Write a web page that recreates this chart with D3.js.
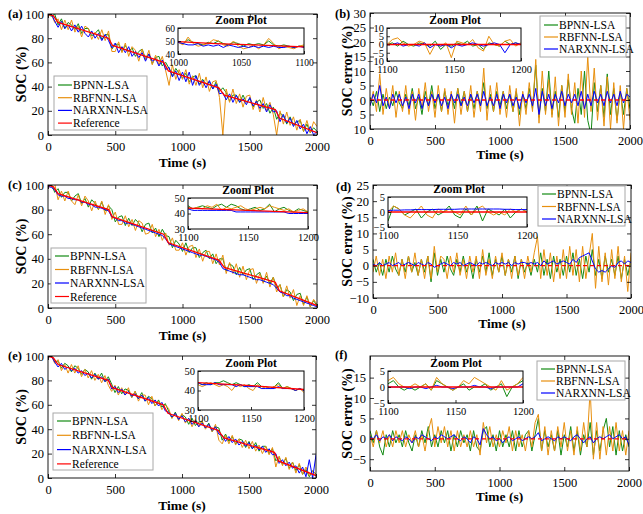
<!DOCTYPE html>
<html lang="en">
<head>
<meta charset="utf-8">
<title>SOC estimation with LSA-tuned networks</title>
<script src="https://cdn.jsdelivr.net/npm/d3@7"></script>
<style>
  body { margin: 0; background: #fff; }
  text { font-family: "Liberation Serif", "Times New Roman", serif; fill: #000; }
</style>
</head>
<body>
<script>
// ---------- data ----------
var seriesNames = ["BPNN-LSA", "RBFNN-LSA", "NARXNN-LSA", "Reference"];
var timeTicks = [0, 500, 1000, 1500, 2000];
var socTicks = [0, 20, 40, 60, 80, 100];
var errTicksB = [-10, -5, 0, 5, 10, 15, 20, 25, 30];
var errLabelsB = ["10", "5", "0", "5", "10", "15", "20", "25", "30"];
var errTicksD = [-10, -5, 0, 5, 10, 15, 20, 25];
var errTicksF = [-5, 0, 5, 10, 15];

// sample instants of the estimates (s)
var sampleTimes = d3.range(0, 2001, 25);
var zoomTimesA = d3.range(1000, 1101, 4);
var zoomTimes = d3.range(1100, 1201, 4);

// reference SOC, breakpoints [time, SOC]
var socReference = [[0, 100], [40, 98.5], [75, 93], [450, 80], [480, 74], [860, 60], [895, 53],
  [1270, 39], [1310, 33], [1690, 21], [1720, 14], [2000, 2]];
var errReference = [[0, 0], [2000, 0]];
var zoomErrReference = [[1100, 0], [1200, 0]];
var zoomRefA = [[1000, 49.5], [1030, 48], [1060, 47], [1100, 45.5]];
var zoomRefC = [[1100, 43.5], [1150, 42], [1200, 40.5]];
var zoomRefE = [[1100, 44], [1150, 42.5], [1200, 40.5]];

// (a)
var bpnnSocA = [100,98,100,91,96,88,93,91,87,92, 84,88,88,82,84,87,79,83,83,71, 75,75,69,74,69,72,65,69,71,63,
  67,59,64,65,57,60,55,49,55,51, 47,51,44,48,49,42,46,42,44,38, 44,36,39,35,28,33,33,27,33,27,
  30,23,27,29,22,26,18,23,13,18, 16,9,15,8,11,12,3,9,2,6, 3];
var rbfnnSocA = [98,100,93,96,87,95,87,95,85,90, 81,90,88,79,85,79,87,78,86,69, 69,77,68,76,65,73,70,61,71,62,
  70,58,66,58,65,53,41,58,46,54, 46,54,42,49,41,51,39,48,36,44, 45,31,0,38,27,38,26,34,23,32,
  33,21,29,19,31,20,27,17,0,20, 9,19,8,15,4,13,3,12,2,11, 7];
var narxSocA = [99,100,94,89,94,88,91,86,91,85, 90,84,81,86,80,84,78,83,78,72, 76,68,73,68,73,65,69,64,68,61,
  67,61,63,57,62,54,56,48,53,45, 52,44,52,41,49,41,45,39,45,38, 42,34,35,29,34,27,33,27,30,25,
  31,24,28,22,26,19,25,19,20,11, 17,10,14,7,12,5,9,1,7,0, 3];
var zoomBpnnA = [49,48,51,49,48,47,49,48,50,48, 47,49,48,46,48,47,48,47,50,47, 46,47,46,45,46,46];
var zoomRbfnnA = [49,47,53,48,46,47,48,51,50,47, 46,50,46,44,45,47,44,47,52,48, 44,46,45,44,46,47];
var zoomNarxA = [49,48,47,47,48,46,47,46,47,45, 47,46,45,46,45,46,45,46,45,46, 45,45,46,45,46,45];

// (b)
var bpnnErrB = [1,-2,3,-4,2,-3,1,-2,3,-1, -3,2,-2,4,-3,1,-5,3,-2,5, -3,2,-4,3,-2,2,-3,4,-2,3,
  -4,2,-3,3,-2,6,-3,2,-4,3, -2,3,-3,2,-4,3,-5,2,-3,4, -3,12,-6,4,-4,10,-5,3,-6,5,
  -4,7,-3,-8,4,-5,10,-7,-12,6, -4,5,-6,9,-5,4,-7,3,-5,4, -3];
var rbfnnErrB = [-2,3,-4,9,-5,4,-3,5,-6,3, -4,5,-5,3,-7,4,-3,6,-4,3, -6,5,-4,4,-5,3,-8,4,-5,3,
  -4,5,-6,3,-4,11,-7,5,-4,6, -5,3,-6,5,-4,4,-9,3,-5,6, -4,14,-8,10,-5,7,-6,8,-9,5,
  -6,9,-5,6,-8,10,-6,15,-4,11, -7,5,-9,8,-10,6,-8,5,-10,4, -7];
var narxErrB = [-2,2,-1,5,-2,1,-3,2,-1,2, -2,1,-3,2,-1,2,-3,1,-2,2, -1,2,-2,1,-3,2,-1,2,-2,1,
  -2,2,-1,2,-2,3,-2,1,-2,2, -3,2,-1,2,-2,1,-3,2,-1,2, -2,4,-5,3,-2,2,-3,2,-1,3,
  -2,2,-1,2,-2,3,-3,2,-2,3, -1,2,-2,3,-1,2,-2,3,-1,2, 1];
var zoomBpnnB = [0,1,-1,2,0,-1,1,0,-1,2, -3,0,-1,1,0,2,-1,0,-3,1, 0,-1,2,0,1,0];
var zoomRbfnnB = [0,3,4,1,-1,0,2,1,-6,0, -1,1,-8,2,1,0,3,-2,-4,5, 0,-1,2,3,-1,1];
var zoomNarxB = [0,0,1,-1,0,0,-1,1,-2,0, -1,0,-2,0,-1,0,1,0,-1,0, 1,0,-5,0,1,0];

// (c)
var bpnnSocC = [101,101,94,97,90,94,94,87,91,93, 85,89,82,88,85,80,86,79,83,80, 70,74,75,67,73,67,72,69,62,68,
  69,61,65,58,64,59,58,49,55,52, 46,53,45,49,49,41,45,47,40,44, 36,40,40,30,36,34,27,33,27,31,
  32,23,27,29,21,26,20,25,16,19, 9,15,13,6,11,12,3,9,1,6, 2];
var rbfnnSocC = [97,101,101,88,95,87,95,87,84,92, 83,91,87,79,87,80,87,76,84,72, 78,68,68,75,66,72,63,71,69,60,
  61,68,58,64,55,61,51,57,47,47, 53,43,50,51,41,48,38,46,46,36, 44,35,43,28,37,28,36,25,34,23,
  31,32,20,28,20,29,17,25,13,19, 9,18,8,15,2,10,2,10,1,7, 3];
var narxSocC = [99,98,96,92,91,91,89,89,88,88, 86,86,84,84,82,82,81,80,79,74, 73,71,71,69,69,68,67,66,65,64,
  63,62,61,60,59,56,52,51,50,49, 48,47,46,45,44,43,43,42,41,40, 39,37,32,31,30,29,28,27,27,26,
  25,24,23,23,22,21,20,19,16,13, 12,10,10,8,7,6,5,4,3,2, 1];
var zoomBpnnC = [45,43,44,45,44,43,45,46,44,46, 45,43,42,43,44,42,43,46,41,43, 44,42,41,43,42,41];
var zoomRbfnnC = [44,43,44,43,45,44,46,42,44,43, 44,45,43,42,43,44,43,45,44,43, 42,43,41,42,43,41];
var zoomNarxC = [43,42,42,42,42,42,42,42,42,42, 41,41,41,41,41,41,41,41,41,41, 41,40,40,40,40,40];

// (d)
var bpnnErrD = [2,-2,1,-3,2,-2,3,-1,-3,2, -2,3,-2,1,-3,2,-2,3,-5,4, -3,2,-2,3,-1,-3,2,-2,3,-2,
  1,-4,2,-2,3,-2,4,-3,2,-2, 3,-3,2,-2,3,-4,2,-2,1,-3, 2,-2,4,-3,2,-4,3,-2,2,-3,
  3,-2,4,-3,2,-4,3,-2,5,-3, 2,-4,3,-2,2,-3,3,-4,2,-3, 2];
var rbfnnErrD = [-2,3,-3,2,-4,3,-2,4,-3,2, -4,3,-2,4,-3,2,-4,3,-4,6, -2,3,2,-4,3,-2,4,-3,2,-4,
  3,-2,3,-4,5,-3,2,-4,3,-2, 4,-3,2,-4,3,-3,2,-4,3,-2, 4,9,-4,5,-3,4,-5,3,-4,5,
  -4,6,-3,5,-5,6,-4,3,10,-7, 6,-5,4,-6,5,-4,6,-5,3,-8, 4];
var narxErrD = [0.5,0,1,0,0.5,1,0,0.5,1,0, 0.5,1,0.5,0,1,0.5,0,1,0.5,-0.5, 0,0.5,1,0.5,0,1,0.5,1,0,0.5,
  1,0.5,0,1,0.5,1,0.5,0,1,0.5, 1,0.5,1,0,1,0.5,1,1,0.5,1, 0.5,1,0,1.5,0.5,1,1.5,0.5,1,1.5,
  1,0.5,2,1,2.5,3,3.5,4,1.5,-1, -2,-1.5,-2,-1,0,-0.5,1,1.5,0.5,1.5, 1];
var zoomBpnnD = [-3,2,1,-1,0,1,-2,0,1,-1, 0,2,-1,-2,1,-1,2,-3,1,0, -1,1,-2,0,1,0];
var zoomRbfnnD = [0,2,1,-1,-2,0,2,-1,-2,1, 0,1,0,-1,2,-1,1,2,0,-1, 0,-1,1,0,1,0];
var zoomNarxD = [0.5,0.6,0.6,0.7,0.7,0.8,0.8,0.8,0.8,0.9, 0.9,0.9,0.9,1,1,1,1,1,1,1, 1,0.9,0.9,0.8,0.8,0.8];

// (e)
var bpnnSocE = [101,101,95,96,90,94,92,87,92,90, 85,89,87,81,86,81,86,79,83,77, 70,75,69,73,72,66,71,65,70,63,
  67,65,59,64,58,61,55,49,54,48, 52,50,44,49,43,46,46,41,45,38, 42,41,31,36,30,34,28,32,31,25,
  30,24,29,22,26,26,20,24,14,17, 11,16,8,13,6,11,3,7,1,6, 3];
var rbfnnSocE = [98,101,94,97,88,93,86,93,86,92, 83,89,82,88,80,85,78,84,76,71, 76,68,74,68,74,66,71,63,68,68,
  60,67,59,63,56,60,57,49,53,47, 53,45,49,42,48,42,47,40,44,38, 44,31,28,35,28,35,27,32,25,31,
  24,30,22,27,20,26,19,25,9,18, 10,17,7,13,4,12,3,9,2,6, 3];
var narxSocE = [99,100,95,91,94,89,91,88,90,86, 88,84,86,82,85,81,83,79,81,73, 75,70,73,68,71,67,69,65,68,63,
  66,61,64,59,62,55,54,50,53,48, 51,46,49,44,47,42,45,41,44,39, 42,36,35,30,34,29,32,27,30,26,
  29,24,27,23,26,21,24,19,20,12, 15,10,13,8,10,4,9,1,15,0, 19];
var zoomBpnnE = [44,43,44,43,44,44,45,44,43,44, 43,42,43,42,44,42,42,41,42,44, 41,42,41,40,41,40];
var zoomRbfnnE = [43,42,43,44,43,42,43,42,40,43, 42,43,41,40,43,41,42,41,42,43, 41,42,41,40,41,39];
var zoomNarxE = [44,43,43,43,44,43,43,43,43,42, 43,42,42,42,42,41,41,41,41,42, 41,41,41,40,41,40];

// (f)
var bpnnErrF = [2,-1,2,-2,-4,1,-2,2,-1,1, -2,2,-1,-3,1,-2,2,-1,3,-2, 1,-2,2,-1,2,-3,1,-2,2,-1,
  1,-3,2,-2,-3,2,3,-2,1,-3, 2,-2,1,-2,2,-3,2,-2,1,2, -3,1,5,-3,2,-2,1,-3,2,-4,
  1,-2,3,-3,2,-4,1,-2,4,-4, 2,-3,2,5,-2,3,-4,2,-3,1, -2];
var rbfnnErrF = [1,-2,2,-1,2,-2,1,-2,2,-1, 2,-2,1,-1,2,-2,1,-3,2,5, -2,3,-1,3,-2,2,-3,2,-2,1,
  -2,2,-2,1,-4,4,-1,3,-2,1, -2,2,-1,3,-3,2,-2,1,-3,2, -2,4,6,-3,3,-4,2,-3,3,-2,
  4,-3,2,-4,3,-3,4,-2,12,-5, 4,-5,3,-4,3,-3,4,-3,2,-4, 2];
var narxErrF = [0.5,0,1,-0.5,0.5,0,1,-0.5,0.5,0, -0.5,0.5,0,-1,0.5,0,1,0.5,0,-0.5, 0.5,0,1,0.5,0,0.5,1,0,-0.5,0.5,
  0,-1,0.5,0,-1.5,2.5,1,0,0.5,-0.5, 0,-1,0,0.5,-0.5,0,0.5,-0.5,0,0.5, 0,0.5,1.5,-0.5,0,0.5,0,-0.5,0.5,0,
  0.5,0,-0.5,0.5,1,0,-1,0,0.5,-1, 0,0.5,0,0.5,1,0,0.5,1,0,0.5, -1.5];
var zoomBpnnF = [1,2,0,-1,0,-1,0,1,-1,2, 1,0,-1,0,1,-1,0,0,1,-1, 0,1,-3,0,1,2];
var zoomRbfnnF = [2,3,1,0,0,1,0,1,-1,3, 1,0,-1,0,2,1,3,2,1,0, -1,2,-1,0,1,3];
var zoomNarxF = [0,0,0,0,-0.5,0,0,-0.5,0,0.5, 0,0,-0.5,0,0,0,0.5,0,0,-0.5, 0,0,0,0,0,1];

// ---------- drawing ----------
var colors = ["#138a13", "#e8900f", "#0000ff", "#ff0000"];
var w = 643, h = 514;
var plain = d3.format("d");

var svg = d3.select("body").append("svg")
  .attr("width", w)
  .attr("height", h);

var clipCount = 0;

// style an axis group: no domain path, serif labels
var styleAxis = function(g, size) {
  g.select(".domain").remove();
  g.selectAll(".tick line").attr("stroke", "#000").attr("stroke-width", 0.8);
  g.selectAll(".tick text").attr("font-size", size).attr("fill", "#000")
    .style("font-family", "'Liberation Serif', 'Times New Roman', serif");
};

var drawLines = function(g, xs, ys, times, list, ref, dashed, width) {
  var line = d3.line().x(function(d) { return xs(d[0]); }).y(function(d) { return ys(d[1]); });
  list.forEach(function(vals, i) {
    g.append("path")
      .datum(d3.zip(times, vals))
      .attr("d", line)
      .attr("fill", "none")
      .attr("stroke", colors[i])
      .attr("stroke-width", width)
      .attr("stroke-linejoin", "round");
  });
  g.append("path")
    .datum(ref)
    .attr("d", line)
    .attr("fill", "none")
    .attr("stroke", colors[3])
    .attr("stroke-width", 1.3)
    .attr("stroke-dasharray", dashed ? "4,3" : null);
};

var drawPanel = function(p) {
  var x = d3.scaleLinear().domain([0, 2000]).range([p.left, p.right]);
  var y = d3.scaleLinear().domain(p.yDomain).range([p.bottom, p.top]);
  var g = svg.append("g");

  var cid = "clip" + (clipCount++);
  svg.append("clipPath").attr("id", cid).append("rect")
    .attr("x", p.left).attr("y", p.top)
    .attr("width", p.right - p.left).attr("height", p.bottom - p.top);

  var plot = g.append("g").attr("clip-path", "url(#" + cid + ")");
  drawLines(plot, x, y, sampleTimes, p.series, p.ref, p.dashed, 1);

  // axes with inward ticks, mirrored on top/right
  var bx = g.append("g").attr("transform", "translate(0," + p.bottom + ")")
    .call(d3.axisBottom(x).tickValues(timeTicks).tickSizeInner(-4).tickSizeOuter(0).tickPadding(7)
      .tickFormat(plain));
  styleAxis(bx, 12.5);
  var tx = g.append("g").attr("transform", "translate(0," + p.top + ")")
    .call(d3.axisTop(x).tickValues(timeTicks).tickSizeInner(-4).tickSizeOuter(0).tickFormat(""));
  styleAxis(tx, 12);
  var ly = g.append("g").attr("transform", "translate(" + p.left + ",0)")
    .call(d3.axisLeft(y).tickValues(p.yTicks).tickSizeInner(-4).tickSizeOuter(0).tickPadding(4)
      .tickFormat(function(d, i) { return p.yLabels ? p.yLabels[i] : plain(d); }));
  styleAxis(ly, 12.5);
  var ry = g.append("g").attr("transform", "translate(" + p.right + ",0)")
    .call(d3.axisRight(y).tickValues(p.yTicks).tickSizeInner(-4).tickSizeOuter(0).tickFormat(""));
  styleAxis(ry, 12);

  g.append("rect")
    .attr("x", p.left).attr("y", p.top)
    .attr("width", p.right - p.left).attr("height", p.bottom - p.top)
    .attr("fill", "none").attr("stroke", "#000").attr("stroke-width", 0.9);

  // titles
  g.append("text")
    .attr("x", (p.left + p.right) / 2).attr("y", p.xTitleY)
    .attr("text-anchor", "middle").attr("font-size", 13.5).attr("font-weight", "bold")
    .text("Time (s)");
  g.append("text")
    .attr("transform", "translate(" + p.yTitleX + "," + ((p.top + p.bottom) / 2) + ") rotate(-90)")
    .attr("text-anchor", "middle").attr("font-size", 14).attr("font-weight", "bold")
    .text(p.yTitle);
  g.append("text")
    .attr("x", p.tagX).attr("y", p.tagY)
    .attr("font-size", 12.5).attr("font-weight", "bold")
    .text(p.tag);

  // zoom inset
  var z = p.inset;
  var zx = d3.scaleLinear().domain(z.xDomain).range([z.left, z.right]);
  var zy = d3.scaleLinear().domain(z.yDomain).range([z.bottom, z.top]);
  var ig = g.append("g");
  ig.append("rect")
    .attr("x", z.left).attr("y", z.top)
    .attr("width", z.right - z.left).attr("height", z.bottom - z.top)
    .attr("fill", "#fff");
  var zcid = "clip" + (clipCount++);
  svg.append("clipPath").attr("id", zcid).append("rect")
    .attr("x", z.left).attr("y", z.top)
    .attr("width", z.right - z.left).attr("height", z.bottom - z.top);
  var zplot = ig.append("g").attr("clip-path", "url(#" + zcid + ")");
  drawLines(zplot, zx, zy, z.times, z.series, z.ref, false, 1);

  var zbx = ig.append("g").attr("transform", "translate(0," + z.bottom + ")")
    .call(d3.axisBottom(zx).tickValues(z.xTicks).tickSizeInner(-3).tickSizeOuter(0).tickPadding(5)
      .tickFormat(plain));
  styleAxis(zbx, z.font);
  var zly = ig.append("g").attr("transform", "translate(" + z.left + ",0)")
    .call(d3.axisLeft(zy).tickValues(z.yTicks).tickSizeInner(-3).tickSizeOuter(0).tickPadding(3)
      .tickFormat(plain));
  styleAxis(zly, z.font);
  ig.append("rect")
    .attr("x", z.left).attr("y", z.top)
    .attr("width", z.right - z.left).attr("height", z.bottom - z.top)
    .attr("fill", "none").attr("stroke", "#000").attr("stroke-width", 1);
  ig.append("text")
    .attr("x", z.titleX).attr("y", z.titleY)
    .attr("text-anchor", "middle").attr("font-size", 11.5).attr("font-weight", "bold")
    .text("Zoom Plot");

  // legend
  var lg = p.legend;
  var leg = g.append("g");
  leg.append("rect")
    .attr("x", lg.left).attr("y", lg.top)
    .attr("width", lg.width).attr("height", lg.height)
    .attr("fill", "#fff").attr("stroke", "#a8a8a8").attr("stroke-width", 1);
  seriesNames.slice(0, lg.count).forEach(function(name, i) {
    var cy = lg.top + lg.first + i * lg.rowH;
    leg.append("line")
      .attr("x1", lg.left + 4).attr("x2", lg.left + 18)
      .attr("y1", cy).attr("y2", cy)
      .attr("stroke", colors[i]).attr("stroke-width", 1.2);
    leg.append("text")
      .attr("x", lg.left + 19).attr("y", cy + 4)
      .attr("font-size", 11.5)
      .text(name);
  });
};

var panels = [
  { tag: "(a)", tagX: 8, tagY: 18, left: 48, right: 317, top: 14, bottom: 135,
    yDomain: [0, 100], yTicks: socTicks, yTitle: "SOC (%)", yTitleX: 26, xTitleY: 167,
    series: [bpnnSocA, rbfnnSocA, narxSocA], ref: socReference, dashed: false,
    inset: { left: 178, right: 304, top: 28, bottom: 54, xDomain: [1000, 1100], xTicks: [1000, 1050, 1100],
      yDomain: [40, 60], yTicks: [40, 50, 60], titleX: 241, titleY: 24, font: 9.5,
      times: zoomTimesA, series: [zoomBpnnA, zoomRbfnnA, zoomNarxA], ref: zoomRefA },
    legend: { left: 54, top: 76, width: 93, height: 54, first: 9, rowH: 12.7, count: 4 } },
  { tag: "(b)", tagX: 335, tagY: 18, left: 370, right: 630, top: 13, bottom: 129,
    yDomain: [-10, 30], yTicks: errTicksB, yLabels: errLabelsB, yTitle: "SOC error (%)", yTitleX: 352, xTitleY: 159,
    series: [bpnnErrB, rbfnnErrB, narxErrB], ref: errReference, dashed: true,
    inset: { left: 387, right: 521, top: 28, bottom: 61, xDomain: [1100, 1200], xTicks: [1100, 1150, 1200],
      yDomain: [-10, 10], yTicks: [-10, -5, 0, 5, 10], titleX: 455, titleY: 24, font: 10.5,
      times: zoomTimes, series: [zoomBpnnB, zoomRbfnnB, zoomNarxB], ref: zoomErrReference },
    legend: { left: 540, top: 16, width: 86, height: 41, first: 9, rowH: 12, count: 3 } },
  { tag: "(c)", tagX: 8, tagY: 189, left: 48, right: 317, top: 185, bottom: 308,
    yDomain: [0, 100], yTicks: socTicks, yTitle: "SOC (%)", yTitleX: 26, xTitleY: 340,
    series: [bpnnSocC, rbfnnSocC, narxSocC], ref: socReference, dashed: false,
    inset: { left: 188, right: 308, top: 198, bottom: 229, xDomain: [1100, 1200], xTicks: [1100, 1150, 1200],
      yDomain: [30, 50], yTicks: [30, 40, 50], titleX: 248, titleY: 194, font: 10.5,
      times: zoomTimes, series: [zoomBpnnC, zoomRbfnnC, zoomNarxC], ref: zoomRefC },
    legend: { left: 51, top: 248, width: 95, height: 55, first: 8, rowH: 13.5, count: 4 } },
  { tag: "(d)", tagX: 336, tagY: 191, left: 373, right: 631, top: 185, bottom: 298,
    yDomain: [-10, 25], yTicks: errTicksD, yTitle: "SOC error (%)", yTitleX: 352, xTitleY: 328,
    series: [bpnnErrD, rbfnnErrD, narxErrD], ref: errReference, dashed: true,
    inset: { left: 388, right: 527, top: 197, bottom: 227, xDomain: [1100, 1200], xTicks: [1100, 1150, 1200],
      yDomain: [-5, 5], yTicks: [-5, 0, 5], titleX: 459, titleY: 193, font: 10.5,
      times: zoomTimes, series: [zoomBpnnD, zoomRbfnnD, zoomNarxD], ref: zoomErrReference },
    legend: { left: 538, top: 186, width: 87, height: 40, first: 8, rowH: 12.5, count: 3 } },
  { tag: "(e)", tagX: 8, tagY: 360, left: 48, right: 316, top: 356, bottom: 478,
    yDomain: [0, 100], yTicks: socTicks, yTitle: "SOC (%)", yTitleX: 26, xTitleY: 510,
    series: [bpnnSocE, rbfnnSocE, narxSocE], ref: socReference, dashed: false,
    inset: { left: 198, right: 304, top: 371, bottom: 410, xDomain: [1100, 1200], xTicks: [1100, 1150, 1200],
      yDomain: [30, 50], yTicks: [30, 40, 50], titleX: 251, titleY: 367, font: 10.5,
      times: zoomTimes, series: [zoomBpnnE, zoomRbfnnE, zoomNarxE], ref: zoomRefE },
    legend: { left: 53, top: 413, width: 100, height: 57, first: 8, rowH: 14.3, count: 4 } },
  { tag: "(f)", tagX: 335, tagY: 359, left: 370, right: 629, top: 356, bottom: 471,
    yDomain: [-7.9, 20.3], yTicks: errTicksF, yTitle: "SOC error (%)", yTitleX: 352, xTitleY: 501,
    series: [bpnnErrF, rbfnnErrF, narxErrF], ref: errReference, dashed: true,
    inset: { left: 388, right: 523, top: 371, bottom: 403, xDomain: [1100, 1200], xTicks: [1100, 1150, 1200],
      yDomain: [-5, 5], yTicks: [-5, 0, 5], titleX: 456, titleY: 367, font: 10.5,
      times: zoomTimes, series: [zoomBpnnF, zoomRbfnnF, zoomNarxF], ref: zoomErrReference },
    legend: { left: 537, top: 361, width: 88, height: 39, first: 8, rowH: 12, count: 3 } }
];

panels.forEach(drawPanel);
</script>
</body>
</html>
